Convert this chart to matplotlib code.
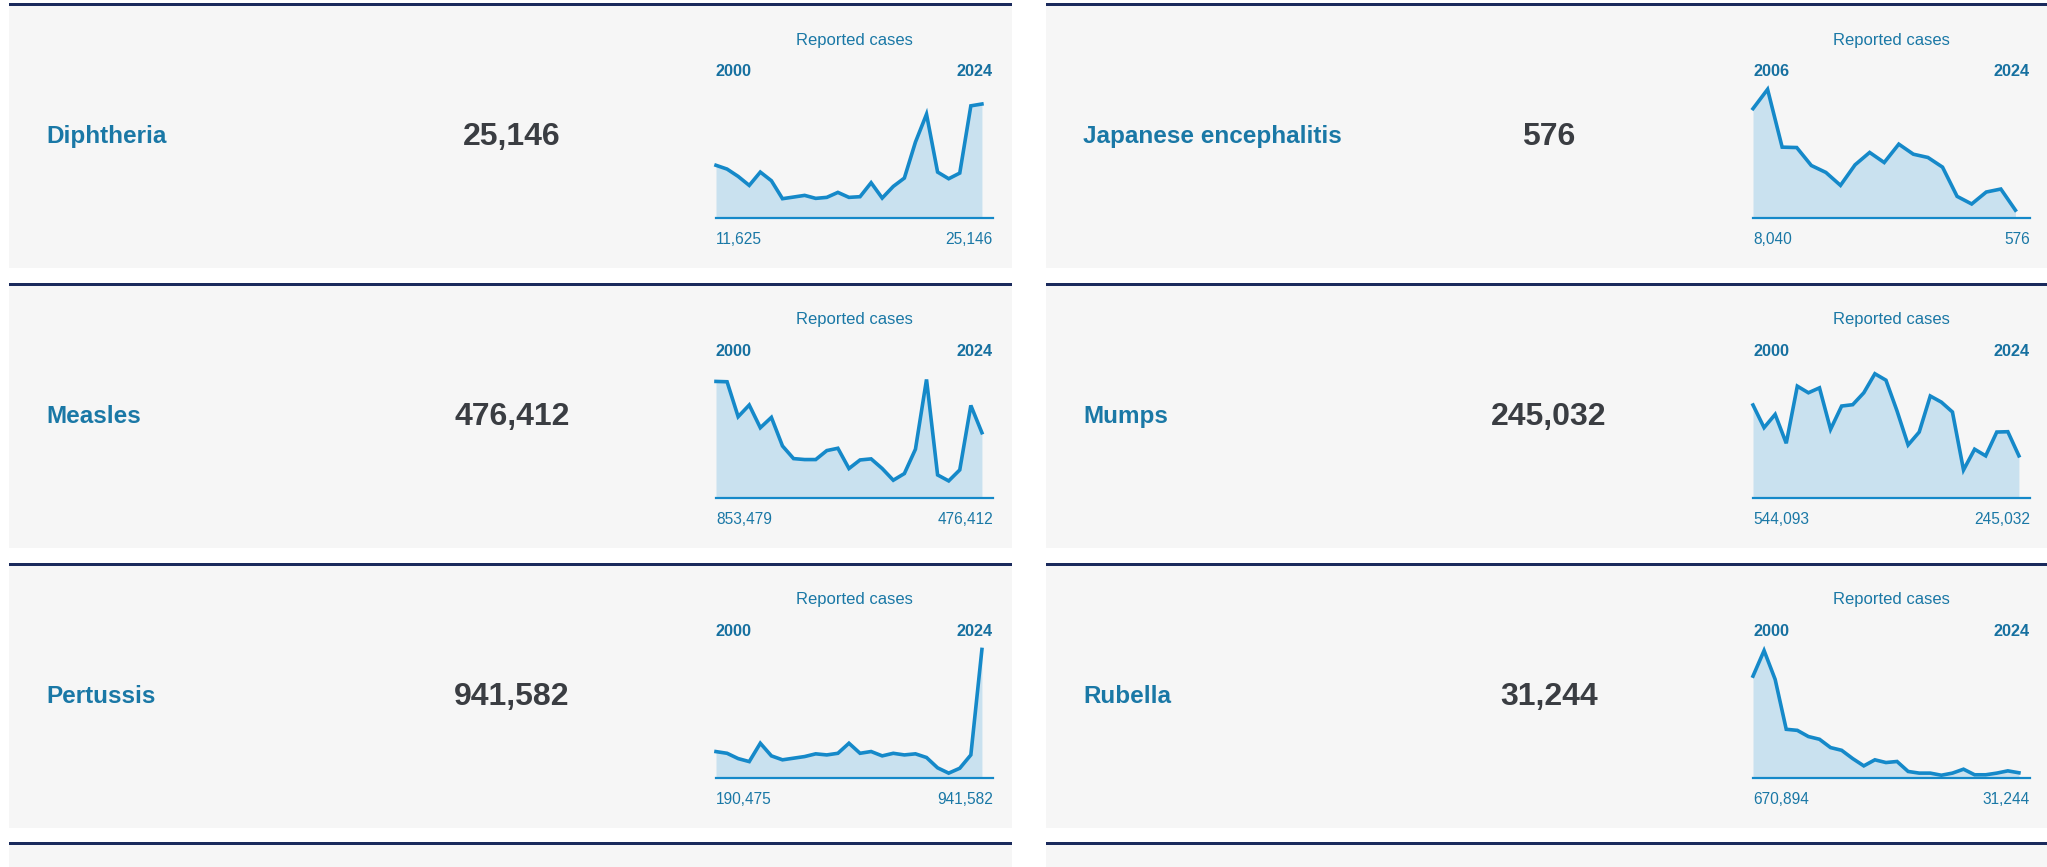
import matplotlib
matplotlib.use("Agg")
import matplotlib.pyplot as plt
from matplotlib.patches import Rectangle

plt.rcParams['font.family'] = ['Liberation Sans', 'DejaVu Sans']

# Data (reported cases)
names = ["Diphtheria", "Measles", "Pertussis",
         "Japanese encephalitis", "Mumps", "Rubella"]
start_years = [2000, 2000, 2000, 2006, 2000, 2000]
end_year = 2024
y_max = [30000, 1000000, 1000000, 10000, 800000, 900000]

diphtheria = [11625, 10790, 9175, 7190, 10130, 8220, 4260, 4620, 4990, 4330,
              4550, 5650, 4550, 4700, 7780, 4400, 6970, 8810, 16740, 22900,
              10130, 8660, 9910, 24740, 25146]
measles = [853479, 851000, 594000, 680000, 513000, 589000, 379000, 286000,
           279000, 279000, 345000, 362000, 213000, 276000, 284000, 213000,
           127000, 176000, 355000, 868000, 166000, 122000, 203000, 677000,
           476412]
pertussis = [190475, 178000, 139000, 117000, 252000, 159000, 130000, 142000,
             154000, 174000, 166000, 178000, 252000, 178000, 191000, 159000,
             178000, 166000, 174000, 147000, 71000, 32000, 68000, 166000,
             941582]
japanese_enc = [8040, 9460, 5210, 5180, 3860, 3350, 2400, 3910, 4820, 4080,
                5430, 4690, 4450, 3740, 1590, 1030, 1910, 2130, 576]
mumps = [544093, 411000, 489000, 319000, 655000, 616000, 645000, 401000,
         538000, 546000, 616000, 728000, 690000, 509000, 309000, 385000,
         597000, 561000, 503000, 162000, 284000, 245000, 385000, 387000,
         245032]
rubella = [670894, 840000, 649000, 319000, 312000, 271000, 253000, 198000,
           180000, 125000, 77000, 117000, 99000, 106000, 40000, 29000, 29000,
           15000, 29000, 55000, 18000, 18000, 29000, 44000, 31244]
series = [diphtheria, measles, pertussis, japanese_enc, mumps, rubella]

# Colours
panel_bg = "#f6f6f6"
rule_col = "#1a2a5c"
name_col = "#1a78a6"
num_col = "#3a3d42"
text_col = "#1a78a6"
line_col = "#1589c9"
fill_col = "#c9e1ef"

W, H = 2047, 867
fig = plt.figure(figsize=(W / 100, H / 100), dpi=100)
fig.patch.set_facecolor("white")

bg = fig.add_axes([0, 0, 1, 1])
bg.set_xlim(0, W)
bg.set_ylim(H, 0)
bg.axis("off")

col_x = [9, 1046]
col_w = [1003, 1001]
row_top = [3, 282.5, 562.5, 842]
row_h = 265

# panels and rules (including the partly visible 4th row)
for c in range(2):
    for r in range(4):
        top = row_top[r]
        h = row_h if r < 3 else H - top
        bg.add_patch(Rectangle((col_x[c], top), col_w[c], h,
                               facecolor=panel_bg, edgecolor="none"))
        bg.add_patch(Rectangle((col_x[c], top), col_w[c], 3,
                               facecolor=rule_col, edgecolor="none"))


def fmt(v):
    return f"{v:,}"


for i, (name, vals) in enumerate(zip(names, series)):
    c = i // 3
    r = i % 3
    x0 = col_x[c]
    top = row_top[r]

    bg.text(x0 + 37, top + 134, name, fontsize=17.5, fontweight="bold",
            color=name_col, ha="left", va="center")
    bg.text(x0 + 503, top + 134, fmt(vals[-1]), fontsize=23,
            fontweight="bold", color=num_col, ha="center", va="center")

    sx = x0 + 707
    sw = 277
    base = top + 215
    sh = 136
    bg.text(sx + sw / 2, top + 37, "Reported cases", fontsize=12,
            color=text_col, ha="center", va="center")
    bg.text(sx, top + 69, str(start_years[i]), fontsize=11.7,
            fontweight="bold", color="#1670a0", ha="left", va="center")
    bg.text(sx + sw, top + 69, str(end_year), fontsize=11.7,
            fontweight="bold", color="#1670a0", ha="right", va="center")
    bg.text(sx, top + 237, fmt(vals[0]), fontsize=11.2, color=text_col,
            ha="left", va="center")
    bg.text(sx + sw, top + 237, fmt(vals[-1]), fontsize=11.2,
            color=text_col, ha="right", va="center")

    ax = fig.add_axes([sx / W, (H - base) / H, sw / W, sh / H])
    ax.patch.set_alpha(0)
    years = list(range(start_years[i], end_year + 1))
    ax.fill_between(years, vals, 0, color=fill_col, linewidth=0)
    ax.plot(years, vals, color=line_col, linewidth=2.6,
            solid_joinstyle="miter", clip_on=False)
    ax.axhline(0, color=line_col, linewidth=1.6, clip_on=False)
    ax.set_xlim(start_years[i], end_year + 1)
    ax.set_ylim(0, y_max[i])
    ax.axis("off")

fig.savefig("out.png", dpi=100, facecolor="white")
